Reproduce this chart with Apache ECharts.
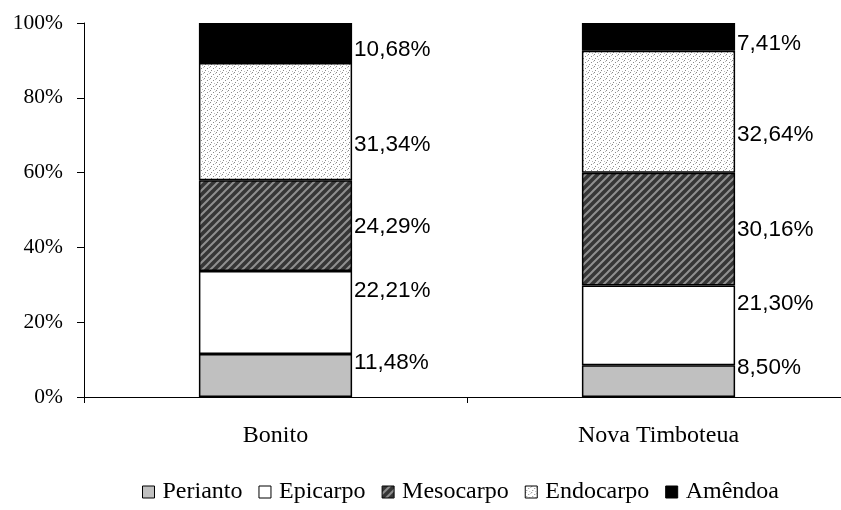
<!DOCTYPE html>
<html>
<head>
<meta charset="utf-8">
<script src="https://cdn.jsdelivr.net/npm/echarts@6/dist/echarts.min.js"></script>
<style>
  html, body { margin: 0; padding: 0; background: #fff; overflow: hidden; }
  /* plot area runs past the right edge of the window, as in the original */
  #chart { width: 850px; height: 510px; }
</style>
</head>
<body>
<div id="chart"></div>
<script>
// data
var categories = ['Bonito', 'Nova Timboteua'];
var parts = ['Perianto', 'Epicarpo', 'Mesocarpo', 'Endocarpo', 'Amêndoa'];
var perianto = [11.48, 8.50];
var epicarpo = [22.21, 21.30];
var mesocarpo = [24.29, 30.16];
var endocarpo = [31.34, 32.64];
var amendoa = [10.68, 7.41];
var yTicks = [0, 20, 40, 60, 80, 100];

var serif = 'Liberation Serif, Times New Roman, serif';

// hatch fills
function stripes() {
  var c = document.createElement('canvas');
  c.width = 8; c.height = 8;
  var g = c.getContext('2d');
  g.fillStyle = '#363636';
  g.fillRect(0, 0, 8, 8);
  g.strokeStyle = '#909090';
  g.lineWidth = 2;
  g.beginPath();
  g.moveTo(0, 8); g.lineTo(8, 0);
  g.moveTo(-4, 4); g.lineTo(4, -4);
  g.moveTo(4, 12); g.lineTo(12, 4);
  g.stroke();
  return c;
}
function dots() {
  var c = document.createElement('canvas');
  c.width = 6; c.height = 6;
  var g = c.getContext('2d');
  g.fillStyle = '#fff';
  g.fillRect(0, 0, 6, 6);
  g.fillStyle = '#8a8a8a';
  g.fillRect(0, 0, 1, 1);
  g.fillRect(3, 2, 1, 1);
  g.fillRect(1, 4, 1, 1);
  g.fillStyle = '#bdbdbd';
  g.fillRect(4, 5, 1, 1);
  g.fillRect(5, 1, 1, 1);
  return c;
}

var fills = ['#c0c0c0', '#ffffff', { image: stripes(), repeat: 'repeat' }, { image: dots(), repeat: 'repeat' }, '#000000'];
var labelDy = [-13, -22, 1, 23, 7];
var values = [perianto, epicarpo, mesocarpo, endocarpo, amendoa];

var series = parts.map(function (name, i) {
  return {
    name: name,
    type: 'bar',
    stack: 'total',
    barWidth: '40%',
    data: values[i],
    itemStyle: { color: fills[i], borderColor: '#000', borderWidth: 1.5 },
    label: {
      show: true,
      position: 'right',
      distance: 2,
      offset: [0, labelDy[i]],
      color: '#000',
      fontFamily: 'Liberation Sans, Arial, sans-serif',
      fontSize: 22.5,
      formatter: function (p) { return p.value.toFixed(2).replace('.', ',') + '%'; }
    }
  };
});

var chart = echarts.init(document.getElementById('chart'));
chart.setOption({
  animation: false,
  backgroundColor: '#fff',
  textStyle: { fontFamily: serif },
  grid: { left: 84, right: 0, top: 23, bottom: 113, containLabel: false },
  legend: {
    bottom: 1,
    left: 137,
    itemWidth: 12,
    itemHeight: 12,
    itemGap: 16,
    icon: 'rect',
    textStyle: { fontFamily: serif, fontSize: 24, color: '#000', padding: [0, 0, 0, 3] },
    itemStyle: { borderColor: '#000', borderWidth: 1 },
    data: parts
  },
  xAxis: {
    type: 'category',
    data: categories,
    axisLine: { lineStyle: { color: '#000', width: 1 } },
    axisTick: { show: true, length: 6, lineStyle: { color: '#000' } },
    axisLabel: { color: '#000', fontSize: 24, margin: 27, fontFamily: serif }
  },
  yAxis: {
    type: 'value',
    min: yTicks[0],
    max: yTicks[yTicks.length - 1],
    interval: yTicks[1] - yTicks[0],
    splitLine: { show: false },
    axisLine: { show: true, lineStyle: { color: '#000', width: 1 } },
    axisTick: { show: true, length: 7, lineStyle: { color: '#000' } },
    axisLabel: { color: '#000', fontSize: 21.5, margin: 21, fontFamily: serif, formatter: '{value}%' }
  },
  series: series
});
</script>
</body>
</html>
